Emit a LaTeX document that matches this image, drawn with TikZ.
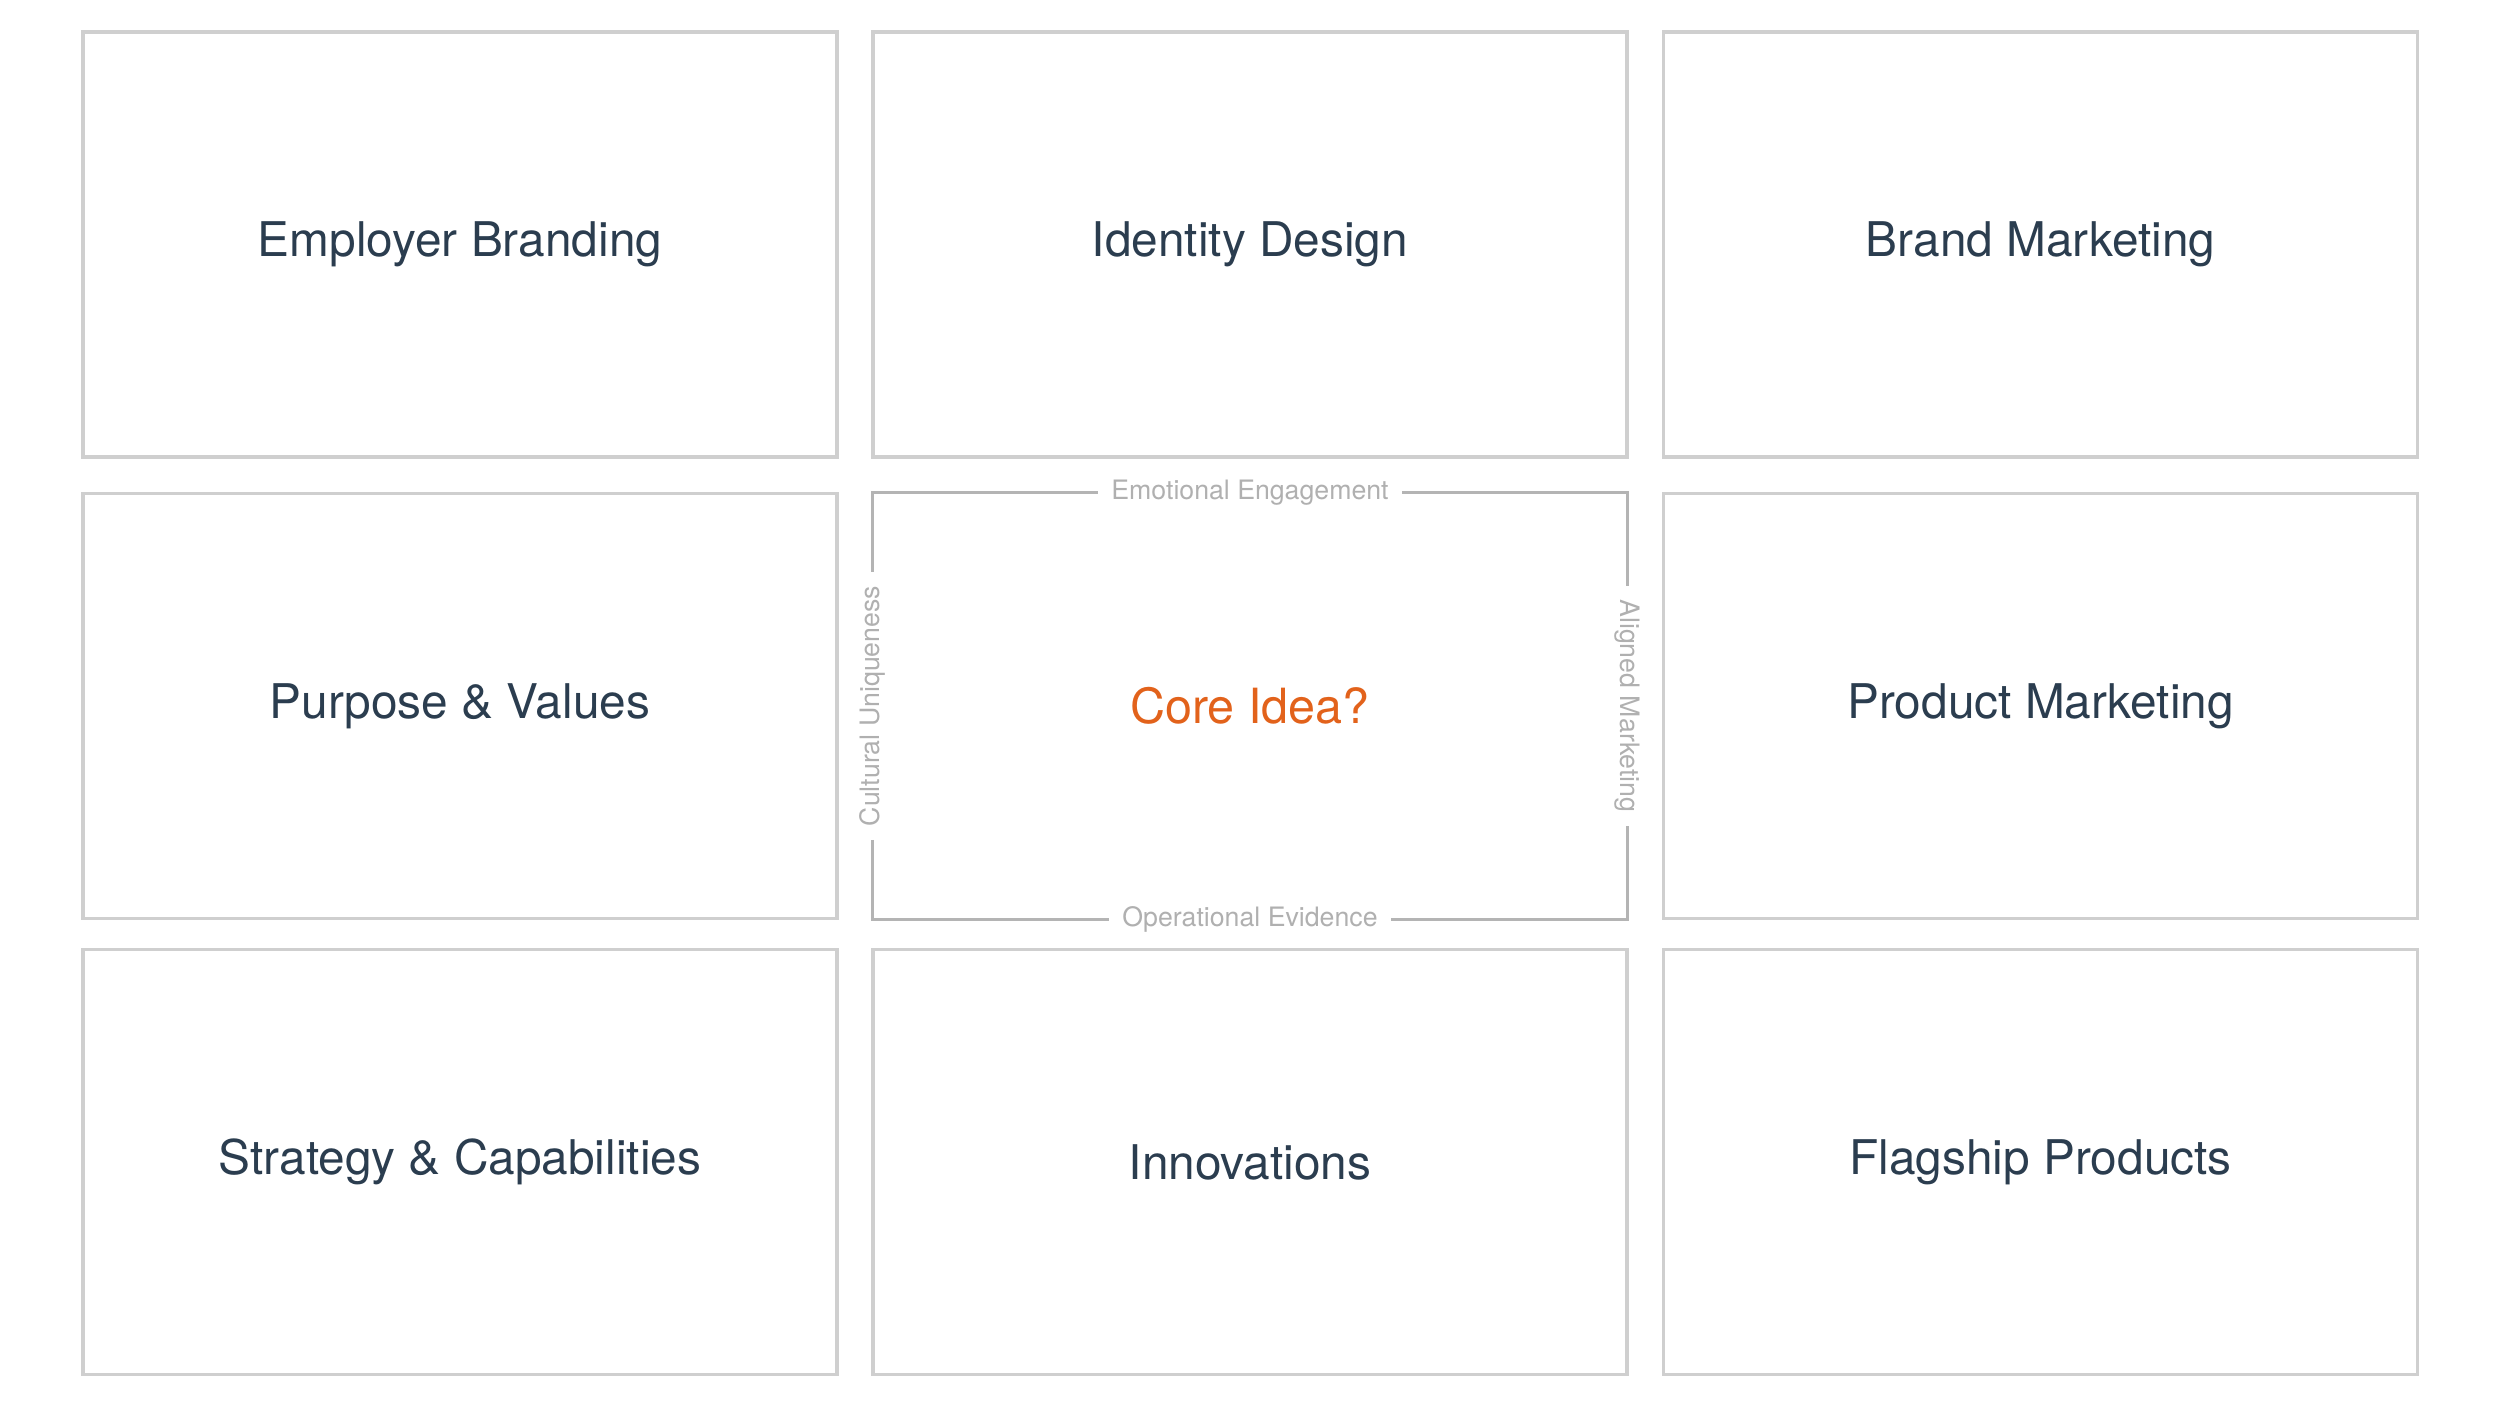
\documentclass[tikz,border=0pt]{standalone}
\usepackage{fontspec}
\setmainfont{TeX Gyre Heros}
\usepackage{xcolor}
\usepackage{tikz}
\usetikzlibrary{positioning,calc}

\definecolor{tileline}{HTML}{CFCFCF}
\definecolor{coreline}{HTML}{B4B4B4}
\definecolor{tiletext}{HTML}{2B3D4F}
\definecolor{coreorange}{HTML}{E2621B}
\definecolor{axisgrey}{HTML}{B0B0B0}

\tikzset{
  tile/.style={draw=tileline, line width=1.1pt, minimum width=7.54cm, minimum height=4.25cm,
    text=tiletext, font=\fontsize{13.6}{16}\selectfont},
  coretile/.style={minimum width=7.54cm, minimum height=4.25cm,
    text=coreorange, font=\fontsize{13.8}{16}\selectfont},
  axislabel/.style={fill=white, text=axisgrey, inner sep=0.13cm, font=\fontsize{7.6}{9}\selectfont},
  coreedge/.style={draw=coreline, line width=0.85pt}
}

\begin{document}
\begin{tikzpicture}
        \useasboundingbox (0,0) rectangle (25,-14.02);

        % Top row
        \node[tile] (employer) at (4.60,-2.445) {Employer Branding};
        \node[tile] (identity) at (12.50,-2.445) {Identity Design};
        \node[tile] (brand) at (20.405,-2.445) {Brand Marketing};

        % Middle row
        \node[tile] (purpose) at (4.60,-7.06) {Purpose \& Values};
        \node[coretile] (core) at (12.50,-7.06) {Core Idea?};
        \node[tile] (product) at (20.405,-7.06) {Product Marketing};

        % Bottom row
        \node[tile] (strategy) at (4.60,-11.62) {Strategy \& Capabilities};
        \node[tile] (innov) at (12.50,-11.62) {Innovations};
        \node[tile] (flagship) at (20.405,-11.62) {Flagship Products};

        % Labels around the core idea
        \node[axislabel] (emotional) at (core.north) {Emotional Engagement};
        \node[axislabel] (operational) at (core.south) {Operational Evidence};
        \node[axislabel, rotate=90] (cultural) at (core.west) {Cultural Uniqueness};
        \node[axislabel, rotate=-90] (aligned) at (core.east) {Aligned Marketing};

        % Frame of the core idea
        \draw[coreedge] (emotional.west) -| (cultural.east);
        \draw[coreedge] (cultural.west) |- (operational.west);
        \draw[coreedge] (operational.east) -| (aligned.east);
        \draw[coreedge] (aligned.west) |- (emotional.east);
\end{tikzpicture}
\end{document}
